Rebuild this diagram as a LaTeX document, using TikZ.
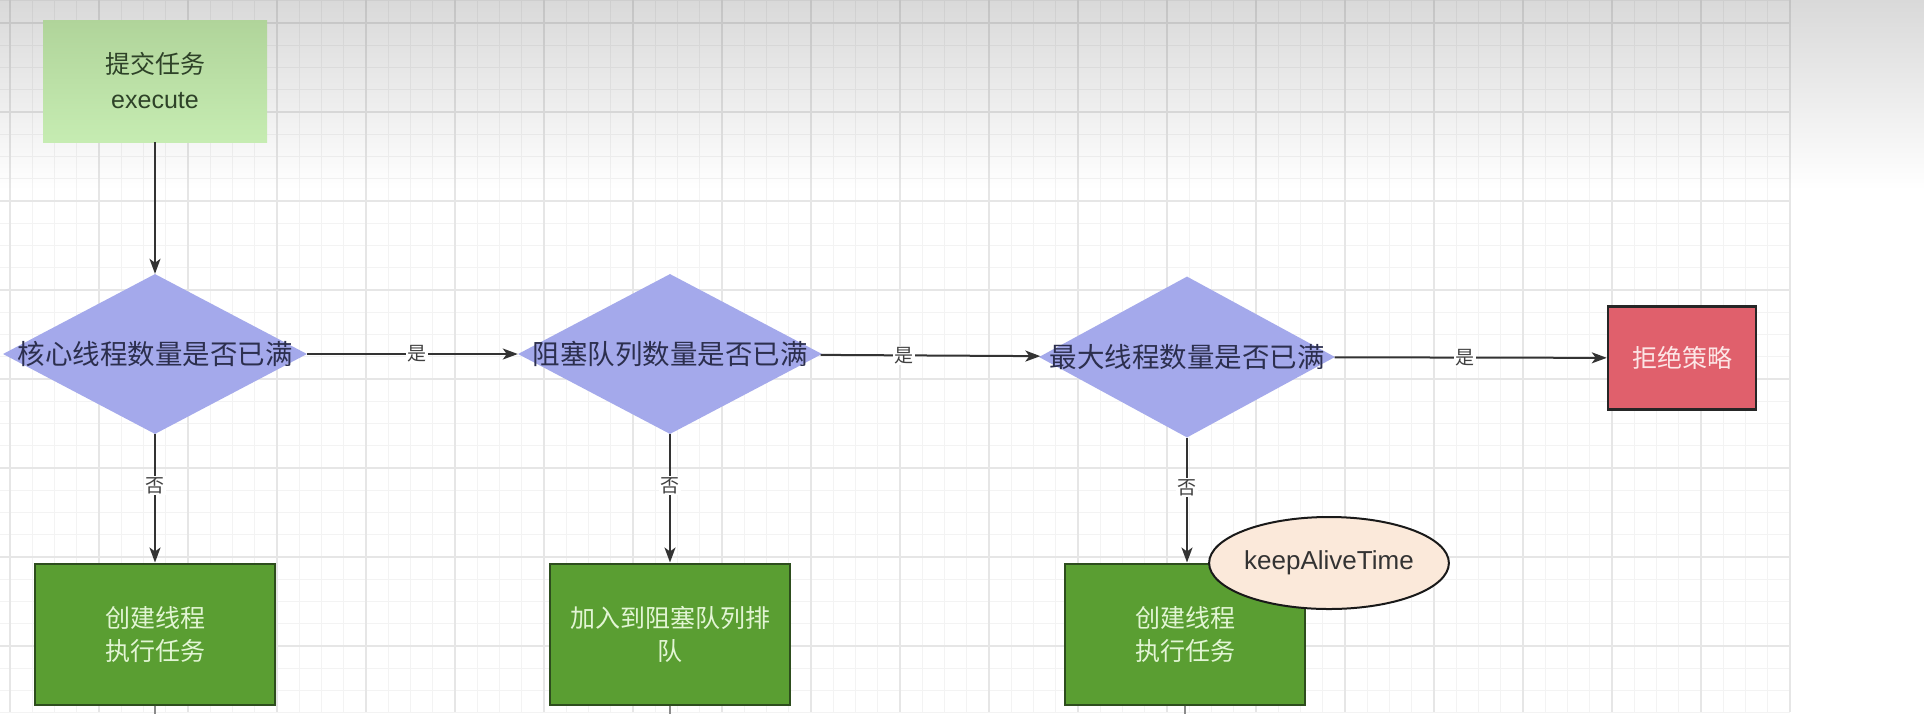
\documentclass[tikz,border=0pt]{standalone}
\usepackage{fontspec}
\setmainfont{Liberation Sans}
\newfontfamily\cjk{Noto Sans CJK SC}
\usetikzlibrary{shapes.geometric,arrows.meta,fadings}
\tikzfading[name=topfade, top color=transparent!0, bottom color=transparent!100]
\definecolor{gminor}{HTML}{F3F3F3}
\definecolor{gmajor}{HTML}{E6E6E6}
\definecolor{diafill}{HTML}{A4A9EB}
\definecolor{topA}{HTML}{B0D49A}
\definecolor{topB}{HTML}{C6ECB2}
\definecolor{boxfill}{HTML}{5A9E32}
\definecolor{boxline}{HTML}{2D4D1D}
\definecolor{boxtext}{HTML}{E2F5D4}
\definecolor{redfill}{HTML}{E0606C}
\definecolor{redtext}{HTML}{FCE6E6}
\definecolor{ellfill}{HTML}{FBE9DA}
\definecolor{arrcol}{HTML}{333333}
\definecolor{dtext}{HTML}{2C2F4E}
\definecolor{toptext}{HTML}{2E4228}
\begin{document}
\begin{tikzpicture}[x=1pt,y=-1pt,
  dia/.style={diamond,fill=diafill,inner sep=0pt,minimum width=304pt,minimum height=160pt},
  diatext/.style={font=\cjk\fontsize{27.5}{32}\selectfont,text=dtext},
  topbox/.style={rectangle,top color=topA,bottom color=topB,minimum width=224pt,minimum height=122pt,align=center,font=\fontsize{25}{35}\selectfont,text=toptext},
  gbox/.style={rectangle,fill=boxfill,draw=boxline,line width=2pt,minimum width=240pt,minimum height=141pt,align=center,font=\cjk\fontsize{25}{33}\selectfont,text=boxtext},
  redbox/.style={rectangle,fill=redfill,draw=black!85,line width=2.5pt,minimum width=148pt,minimum height=103pt,font=\cjk\fontsize{25}{30}\selectfont,text=redtext},
  ell/.style={ellipse,fill=ellfill,draw=black!90,line width=2pt,minimum width=212pt,minimum height=92pt,inner sep=0pt,font=\fontsize{26}{30}\selectfont,text=black!80},
  arr/.style={draw=arrcol,line width=2pt,-{Stealth[length=15pt,width=11pt,inset=4pt]}},
  lbl/.style={fill=white,inner sep=1.5pt,font=\cjk\fontsize{19}{21}\selectfont,text=black!75},
  stub/.style={draw=black!45,line width=1.5pt}]
\useasboundingbox (0,0) rectangle (1932,724);
\fill[white] (0,0) rectangle (1932,724);
% grid
\foreach \k in {0,...,80} \draw[gminor,line width=1pt] ({10+22.25*\k},0) -- ({10+22.25*\k},712);
\foreach \k in {-1,...,31} \draw[gminor,line width=1pt] (0,{23+22.25*\k}) -- (1790,{23+22.25*\k});
\foreach \k in {0,...,20} \draw[gmajor,line width=1.2pt] ({10+89*\k},0) -- ({10+89*\k},712);
\foreach \k in {0,...,7} \draw[gmajor,line width=1.2pt] (0,{23+89*\k}) -- (1790,{23+89*\k});
\fill[black,opacity=0.15,path fading=topfade] (0,0) rectangle (1932,190);
% nodes
\node[topbox] (top) at (155,81) {{\cjk 提交任务}\\execute};
\node[dia] (d1) at (155,354) {};
\node[diatext] (t1) at (d1.center) {核心线程数量是否已满};
\node[dia] (d2) at (670,354) {};
\node[diatext] (t2) at (d2.center) {阻塞队列数量是否已满};
\node[dia,minimum width=296pt,minimum height=161pt] (d3) at (1187,357) {};
\node[diatext] (t3) at (d3.center) {最大线程数量是否已满};
\node[redbox] (rej) at (1682,358) {拒绝策略};
\node[gbox] (b1) at (155,634) {创建线程\\执行任务};
\node[gbox] (b2) at (670,634) {加入到阻塞队列排\\队};
\node[gbox] (b3) at (1185,634) {创建线程\\执行任务};
\node[ell] (ka) at (1329,563) {keepAliveTime};
% stubs below boxes
\coordinate (s1) at (155,714);
\coordinate (s2) at (670,714);
\coordinate (s3) at (1185,714);
\draw[stub] (b1.south) -- (s1);
\draw[stub] (b2.south) -- (s2);
\draw[stub] (b3.south) -- (s3);
% connectors
\draw[arr] (top) -- (d1);
\draw[arr] (d1) -- node[lbl,pos=0.52]{是} (d2);
\draw[arr] (d2) -- node[lbl,pos=0.38]{是} (d3);
\draw[arr] (d3) -- node[lbl,pos=0.48]{是} (rej);
\draw[arr] (d1) -- node[lbl,pos=0.4]{否} (b1);
\draw[arr] (d2) -- node[lbl,pos=0.4]{否} (b2);
\draw[arr] (d3) -- node[lbl,pos=0.4]{否} (b3.north -| d3.south);
\end{tikzpicture}
\end{document}
